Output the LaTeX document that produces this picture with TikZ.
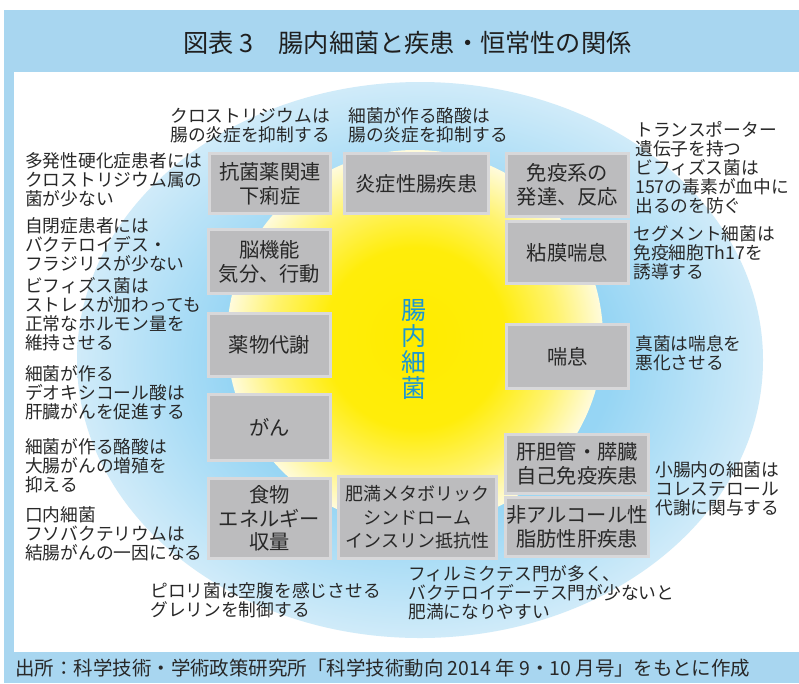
\documentclass[tikz,border=0pt]{standalone}
\usepackage{fontspec}
\setmainfont{Noto Sans CJK JP}
\definecolor{band}{RGB}{168,214,240}
\definecolor{boxfill}{RGB}{188,188,190}
\definecolor{boxedge}{RGB}{216,216,218}
\definecolor{txt}{RGB}{40,40,40}
\definecolor{coreblue}{RGB}{26,150,212}
\definecolor{bA}{RGB}{140,207,242}
\definecolor{bB}{RGB}{150,213,244}
\definecolor{bC}{RGB}{208,235,249}
\definecolor{yA}{RGB}{255,236,0}
\definecolor{yB}{RGB}{255,237,10}
\definecolor{yC}{RGB}{255,243,110}
\definecolor{yD}{RGB}{255,251,220}
\pgfdeclareradialshading{blueell}{\pgfpoint{0bp}{0bp}}{color(0bp)=(bA); color(14bp)=(bB); color(25bp)=(bC); color(50bp)=(bC)}
\pgfdeclareradialshading{yellowsun}{\pgfpoint{0bp}{0bp}}{color(0bp)=(yA); color(12bp)=(yB); color(19bp)=(yC); color(25bp)=(yD); color(50bp)=(yD)}
\begin{document}
\begin{tikzpicture}[x=0.75pt,y=-0.75pt,
  every node/.style={inner sep=0pt, text=txt},
  lbl/.style={anchor=west, align=left, font=\fontsize{13.3}{14.3}\selectfont},
  gbox/.style={fill=boxfill, draw=boxedge, line width=2.25pt, align=center, font=\fontsize{15.2}{17.8}\selectfont}]
\useasboundingbox (0,0) rectangle (799,683);
\fill[band] (4,10) rectangle (799,683);
\fill[white] (14,72) rectangle (799,652);
\shade[shading=blueell] (420,360) ellipse [x radius=257.25pt, y radius=208.5pt];
\shade[shading=yellowsun] (415,338) circle [radius=141pt];

\node[font=\fontsize{18.9}{20}\selectfont, text=black!88] (title) at (407.5,43) {図表 3　腸内細菌と疾患・恒常性の関係};
\node[anchor=west, font=\fontsize{14.6}{16}\selectfont] (src) at (15,668) {出所：科学技術・学術政策研究所「科学技術動向 2014 年 9・10 月号」をもとに作成};

\node[font=\fontsize{18.7}{19.7}\selectfont, text=coreblue, align=center] (core) at (414,349.5) {腸\\内\\細\\菌};

\node[gbox, minimum width=90.75pt, minimum height=45pt] (b1) at (270,183.5) {抗菌薬関連\\下痢症};
\node[gbox, minimum width=108pt, minimum height=45pt] (b2) at (416.5,183.5) {炎症性腸疾患};
\node[gbox, minimum width=91.5pt, minimum height=47.25pt] (b3) at (567.5,185) {免疫系の\\発達、反応};
\node[gbox, minimum width=91.5pt, minimum height=46.5pt] (b4) at (567.5,252.5) {粘膜喘息};
\node[gbox, minimum width=91.5pt, minimum height=48pt] (b5) at (269.5,261.5) {脳機能\\気分、行動};
\node[gbox, minimum width=91.5pt, minimum height=47.25pt] (b6) at (269.5,345) {薬物代謝};
\node[gbox, minimum width=91.5pt, minimum height=49.5pt] (b7) at (269.5,427.5) {がん};
\node[gbox, minimum width=91.5pt, minimum height=48pt] (b8) at (567.5,356.5) {喘息};
\node[gbox, minimum width=91.5pt, minimum height=60pt] (b9) at (269.5,518.5) {食物\\エネルギー\\収量};
\node[gbox, minimum width=118.5pt, minimum height=61.5pt, font=\fontsize{13.5}{17.6}\selectfont] (b10) at (417.5,517.5) {肥満メタボリック\\シンドローム\\インスリン抵抗性};
\node[gbox, minimum width=107.25pt, minimum height=44.25pt] (b11) at (577,464) {肝胆管・膵臓\\自己免疫疾患};
\node[gbox, minimum width=107.25pt, minimum height=44.25pt] (b12) at (577,527) {非アルコール性\\脂肪性肝疾患};

\node[lbl] (l1) at (170,125.5) {クロストリジウムは\\腸の炎症を抑制する};
\node[lbl] (l2) at (348,125.5) {細菌が作る酪酸は\\腸の炎症を抑制する};
\node[lbl] (l3) at (25,180) {多発性硬化症患者には\\クロストリジウム属の\\菌が少ない};
\node[lbl] (l4) at (25,245) {自閉症患者には\\バクテロイデス・\\フラジリスが少ない};
\node[lbl] (l5) at (25,314) {ビフィズス菌は\\ストレスが加わっても\\正常なホルモン量を\\維持させる};
\node[lbl] (l6) at (25,393) {細菌が作る\\デオキシコール酸は\\肝臓がんを促進する};
\node[lbl] (l7) at (25,466) {細菌が作る酪酸は\\大腸がんの増殖を\\抑える};
\node[lbl] (l8) at (25,533.5) {口内細菌\\フソバクテリウムは\\結腸がんの一因になる};
\node[lbl] (l9) at (150,600) {ピロリ菌は空腹を感じさせる\\グレリンを制御する};
\node[lbl] (l10) at (408,593) {フィルミクテス門が多く、\\バクテロイデーテス門が少ないと\\肥満になりやすい};
\node[lbl] (l11) at (635,167.5) {トランスポーター\\遺伝子を持つ\\ビフィズス菌は\\157の毒素が血中に\\出るのを防ぐ};
\node[lbl] (l12) at (633,252.5) {セグメント細菌は\\免疫細胞Th17を\\誘導する};
\node[lbl] (l13) at (635,353.5) {真菌は喘息を\\悪化させる};
\node[lbl] (l14) at (655,488.5) {小腸内の細菌は\\コレステロール\\代謝に関与する};
\end{tikzpicture}
\end{document}
